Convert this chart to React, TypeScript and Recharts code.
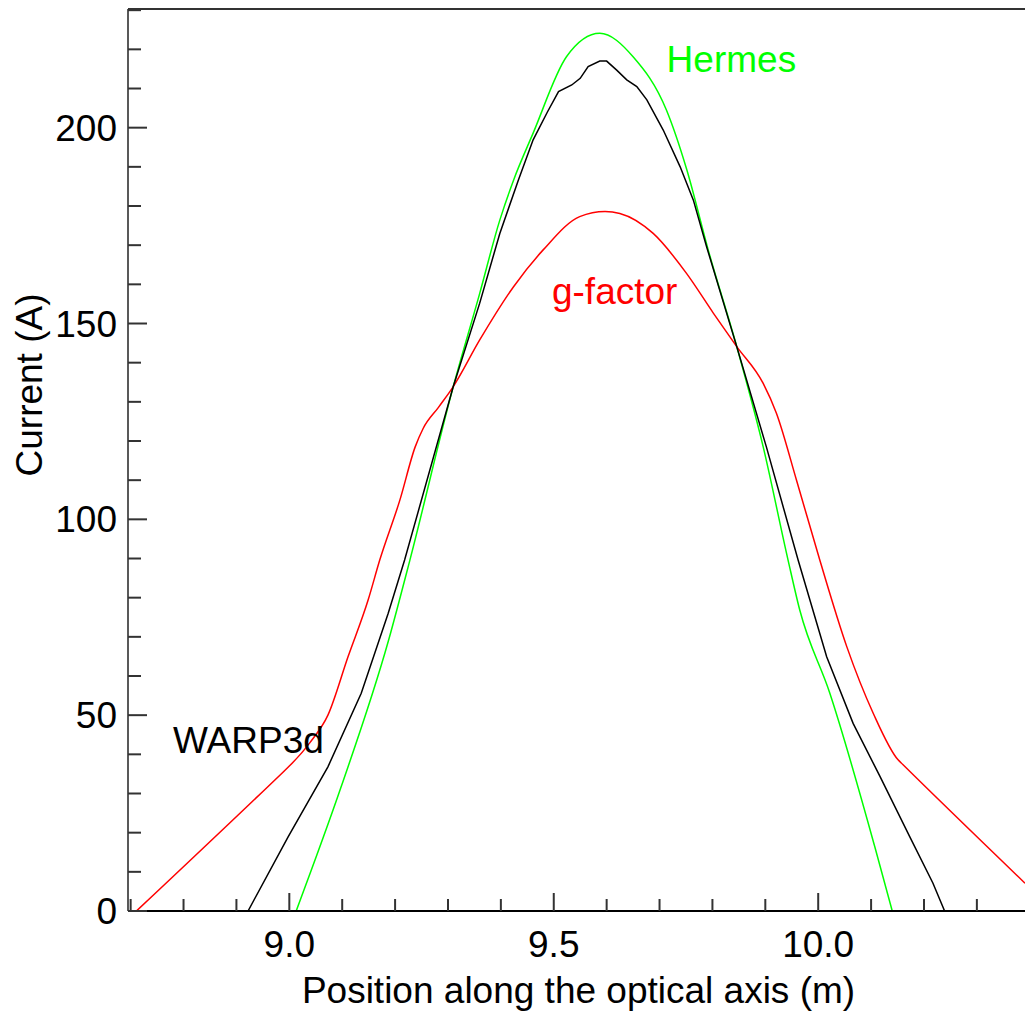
import React from 'react';
import { LineChart, Line, XAxis, YAxis, ReferenceLine, ReferenceDot } from 'recharts';

const FONT = '"Liberation Sans", Arial, Helvetica, sans-serif';
const FS = 37;

// Hermes (green)
const hermesPos = [9.013, 9.098, 9.187, 9.228, 9.31, 9.36, 9.398, 9.424, 9.461, 9.524, 9.587, 9.65, 9.713, 9.751, 9.792, 9.846, 9.896, 9.943, 9.965, 10.022, 10.107, 10.14];
const hermesCurrent = [0, 31.7, 68.8, 89.6, 133.9, 157.7, 176.4, 186.6, 198.6, 218.1, 224.1, 218.1, 204.5, 189.5, 168.8, 144.1, 118.5, 89.6, 76.9, 55.6, 16.4, 0];

// g-factor (red)
const gfactorPos = [8.711, 8.99, 9.0, 9.039, 9.073, 9.111, 9.149, 9.171, 9.209, 9.238, 9.253, 9.282, 9.31, 9.36, 9.424, 9.48, 9.549, 9.597, 9.625, 9.688, 9.751, 9.802, 9.846, 9.896, 9.921, 9.959, 10.003, 10.054, 10.104, 10.151, 10.16, 10.391];
const gfactorCurrent = [0, 35.7, 37.0, 43.0, 50.0, 64.9, 79.4, 89.6, 104.9, 118.5, 123.2, 128.6, 133.9, 145.8, 159.4, 168.8, 177.3, 178.6, 178.1, 173.0, 162.8, 152.6, 144.1, 134.7, 127.1, 110.0, 89.6, 67.5, 50.5, 38.6, 37.4, 7.1];

// WARP3d (black)
const warpPos = [8.695, 8.922, 8.998, 9.073, 9.136, 9.187, 9.218, 9.31, 9.36, 9.398, 9.433, 9.461, 9.488, 9.509, 9.534, 9.55, 9.565, 9.587, 9.6, 9.619, 9.638, 9.657, 9.676, 9.707, 9.739, 9.764, 9.789, 9.846, 9.902, 9.962, 10.016, 10.066, 10.117, 10.173, 10.217, 10.239, 10.391];
const warpCurrent = [0, 0, 19.0, 36.8, 55.6, 76.0, 89.6, 133.9, 155.2, 173.0, 186.6, 196.9, 204.0, 209.2, 210.9, 212.6, 215.6, 217.0, 217.0, 214.7, 212.2, 210.5, 207.1, 199.4, 190.0, 181.5, 169.6, 144.1, 118.5, 89.6, 64.9, 47.9, 34.3, 19.0, 7.1, 0, 0];

const xTicks = [8.7, 8.8, 8.9, 9.0, 9.1, 9.2, 9.3, 9.4, 9.5, 9.6, 9.7, 9.8, 9.9, 10.0, 10.1, 10.2, 10.3];
const yTicks = [0, 10, 20, 30, 40, 50, 60, 70, 80, 90, 100, 110, 120, 130, 140, 150, 160, 170, 180, 190, 200, 210, 220, 230];
const xDomain = [8.695, 10.391];
const yDomain = [0, 230.3];

const seriesLabels = [
  { text: 'Hermes', x: 9.7134, y: 214.3, color: '#00ff00' },
  { text: 'g-factor', x: 9.4966, y: 155.0, color: '#ff0000' },
  { text: 'WARP3d', x: 8.7801, y: 40.3, color: '#000000' },
];

const toRows = (xs: number[], ys: number[]) => xs.map((x, i) => ({ x, y: ys[i] }));
const hermesData = toRows(hermesPos, hermesCurrent);
const gfactorData = toRows(gfactorPos, gfactorCurrent);
const warpData = toRows(warpPos, warpCurrent);

const XTick = (props: any) => {
  const { x, y, payload } = props;
  const v = payload.value as number;
  const major = Math.abs(v * 2 - Math.round(v * 2)) < 1e-6;
  return (
    <g>
      <line x1={x} x2={x} y1={y} y2={y - (major ? 18 : 12)} stroke="#333" strokeWidth={2} />
      {major && (
        <text x={x} y={y + 46} textAnchor="middle" fontSize={FS} fontFamily={FONT} fill="#000">
          {v.toFixed(1)}
        </text>
      )}
    </g>
  );
};

const YTick = (props: any) => {
  const { x, y, payload } = props;
  const v = payload.value as number;
  const major = v % 50 === 0;
  return (
    <g>
      <line x1={x} x2={x + (major ? 19 : 13)} y1={y} y2={y} stroke="#333" strokeWidth={2} />
      {major && (
        <text x={x - 11} y={y + 13} textAnchor="end" fontSize={FS} fontFamily={FONT} fill="#000">
          {v}
        </text>
      )}
    </g>
  );
};

export default function App() {
  return (
    <div style={{ position: 'absolute', left: 0, top: 0 }}>
      <LineChart width={1025} height={1016} margin={{ top: 9, right: 0, left: 0, bottom: 0 }}>
        <XAxis
          type="number"
          dataKey="x"
          domain={xDomain}
          allowDataOverflow
          ticks={xTicks}
          interval={0}
          tickSize={0}
          tickMargin={0}
          tickLine={false}
          tick={XTick}
          height={105}
          axisLine={{ stroke: '#000', strokeWidth: 2 }}
          label={(p: any) => (
            <text
              x={p.viewBox.x + p.viewBox.width / 2 + 2}
              y={p.viewBox.y + 92}
              textAnchor="middle"
              fontSize={FS}
              fontFamily={FONT}
              fill="#000"
            >
              Position along the optical axis (m)
            </text>
          )}
        />
        <YAxis
          type="number"
          domain={yDomain}
          allowDataOverflow
          ticks={yTicks}
          interval={0}
          tickSize={0}
          tickMargin={0}
          tickLine={false}
          tick={YTick}
          width={128}
          axisLine={{ stroke: '#222', strokeWidth: 1.5 }}
          label={(p: any) => {
            const cx = p.viewBox.x + 42;
            const cy = p.viewBox.y + 376;
            return (
              <text
                x={cx}
                y={cy}
                transform={`rotate(-90, ${cx}, ${cy})`}
                textAnchor="middle"
                fontSize={FS}
                fontFamily={FONT}
                fill="#000"
              >
                Current (A)
              </text>
            );
          }}
        />
        <ReferenceLine y={yDomain[1]} stroke="#333" strokeWidth={2} ifOverflow="extendDomain" />
        <Line data={hermesData} dataKey="y" type="monotone" stroke="#00ff00" strokeWidth={1.5} dot={false} isAnimationActive={false} />
        <Line data={gfactorData} dataKey="y" type="monotone" stroke="#ff0000" strokeWidth={1.5} dot={false} isAnimationActive={false} />
        <Line data={warpData} dataKey="y" type="linear" stroke="#000000" strokeWidth={1.5} dot={false} isAnimationActive={false} />
        {seriesLabels.map((l) => (
          <ReferenceDot
            key={l.text}
            x={l.x}
            y={l.y}
            r={0}
            fill="none"
            stroke="none"
            label={(p: any) => (
              <text x={p.viewBox.x} y={p.viewBox.y} fontSize={FS} fontFamily={FONT} fill={l.color}>
                {l.text}
              </text>
            )}
          />
        ))}
      </LineChart>
    </div>
  );
}
